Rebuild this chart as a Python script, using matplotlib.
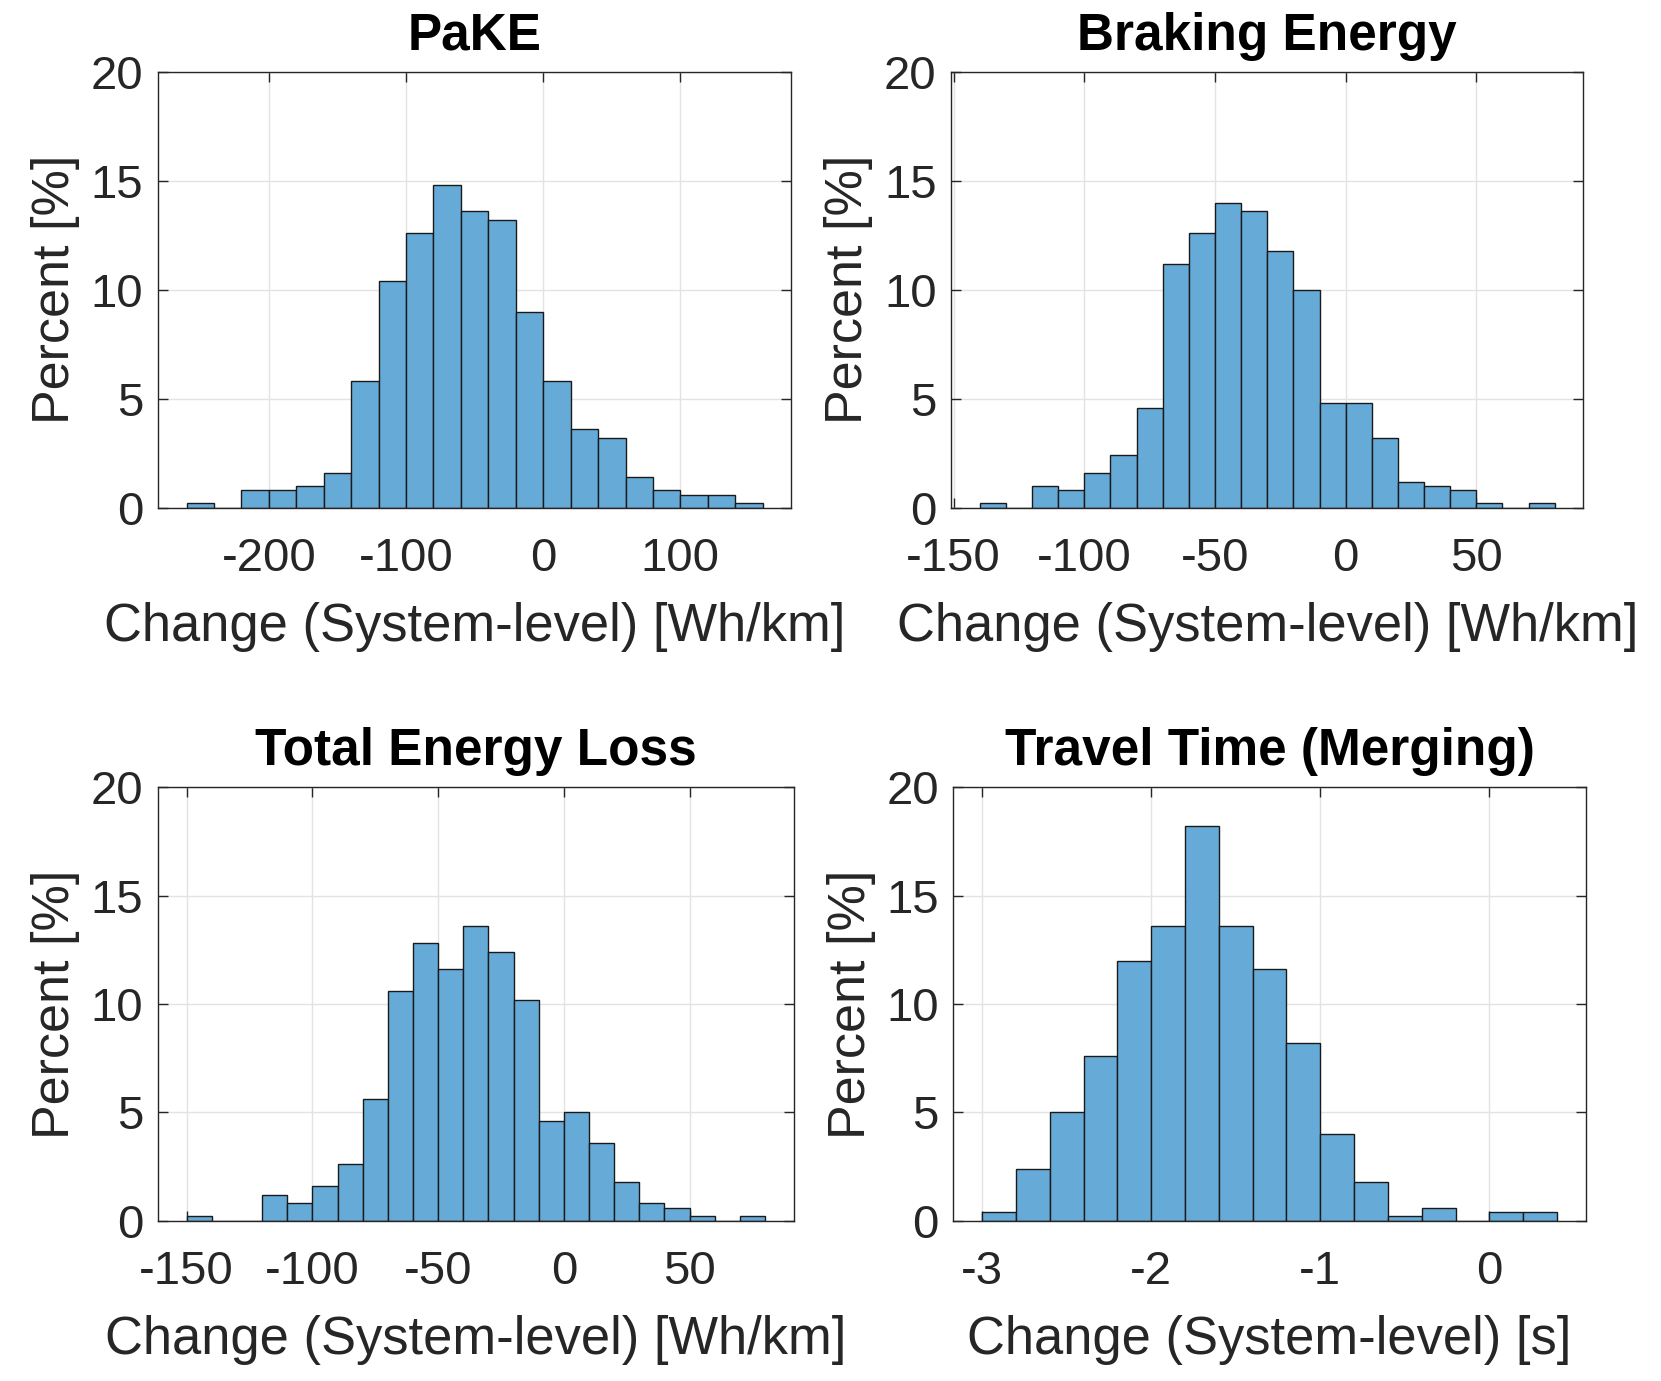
import numpy as np
import matplotlib
matplotlib.use("Agg")
import matplotlib.pyplot as plt

# percent of samples per bin
pake_start, pake_width = -260, 20
pake_pct = [0.2, 0.0, 0.8, 0.8, 1.0, 1.6, 5.8, 10.4, 12.6, 14.8, 13.6,
            13.2, 9.0, 5.8, 3.6, 3.2, 1.4, 0.8, 0.6, 0.6, 0.2]

brake_start, brake_width = -140, 10
brake_pct = [0.2, 0.0, 1.0, 0.8, 1.6, 2.4, 4.6, 11.2, 12.6, 14.0, 13.6,
             11.8, 10.0, 4.8, 4.8, 3.2, 1.2, 1.0, 0.8, 0.2, 0.0, 0.2]

loss_start, loss_width = -150, 10
loss_pct = [0.2, 0.0, 0.0, 1.2, 0.8, 1.6, 2.6, 5.6, 10.6, 12.8, 11.6,
            13.6, 12.4, 10.2, 4.6, 5.0, 3.6, 1.8, 0.8, 0.6, 0.2, 0.0, 0.2]

time_start, time_width = -3.0, 0.2
time_pct = [0.4, 2.4, 5.0, 7.6, 12.0, 13.6, 18.2, 13.6, 11.6, 8.2, 4.0,
            1.8, 0.2, 0.6, 0.0, 0.4, 0.4]

titles = ["PaKE", "Braking Energy", "Total Energy Loss", "Travel Time (Merging)"]
xlabels = ["Change (System-level) [Wh/km]", "Change (System-level) [Wh/km]",
           "Change (System-level) [Wh/km]", "Change (System-level) [s]"]
xticks = [[-200, -100, 0, 100], [-150, -100, -50, 0, 50],
          [-150, -100, -50, 0, 50], [-3, -2, -1, 0]]
xlims = [(-281, 181), (-151, 91), (-161.5, 91.5), (-3.17, 0.57)]
yticks = [0, 5, 10, 15, 20]

panels = [(pake_start, pake_width, pake_pct),
          (brake_start, brake_width, brake_pct),
          (loss_start, loss_width, loss_pct),
          (time_start, time_width, time_pct)]

plt.rcParams['font.family'] = ['Liberation Sans', 'DejaVu Sans']
plt.rcParams['axes.unicode_minus'] = False
text_col = '#262626'
bar_col = '#66aad7'

fig = plt.figure(figsize=(16.61, 13.81), dpi=100)
rects = [[0.0950, 0.6323, 0.3815, 0.3157],
         [0.5726, 0.6323, 0.3807, 0.3157],
         [0.0950, 0.1160, 0.3830, 0.3140],
         [0.5740, 0.1160, 0.3807, 0.3140]]

for i, (start, width, pct) in enumerate(panels):
    ax = fig.add_axes(rects[i])
    left = start + width * np.arange(len(pct))
    ax.bar(left, pct, width=width, align='edge', color=bar_col,
           edgecolor='#1a1a1a', linewidth=1.0, zorder=2)

    ax.set_xlim(*xlims[i])
    ax.set_ylim(0, 20)
    ax.set_xticks(xticks[i])
    ax.set_yticks(yticks)
    ax.set_axisbelow(True)
    ax.grid(True, color='#e3e3e3', linewidth=1.0)

    ax.tick_params(direction='in', top=True, right=True, length=7,
                   width=1.0, colors=text_col, labelsize=34)
    ax.tick_params(axis='x', pad=21)
    ax.tick_params(axis='y', pad=10.5)
    for sp in ax.spines.values():
        sp.set_color(text_col)
        sp.set_linewidth(1.0)

    ax.set_title(titles[i], fontsize=37, fontweight='bold', color='black', pad=16)
    ax.set_xlabel(xlabels[i], fontsize=37.8, color=text_col, labelpad=15.5)
    ax.set_ylabel("Percent [%]", fontsize=37.5, color=text_col, labelpad=7.5)

fig.savefig("out.png", dpi=100, facecolor='white')
